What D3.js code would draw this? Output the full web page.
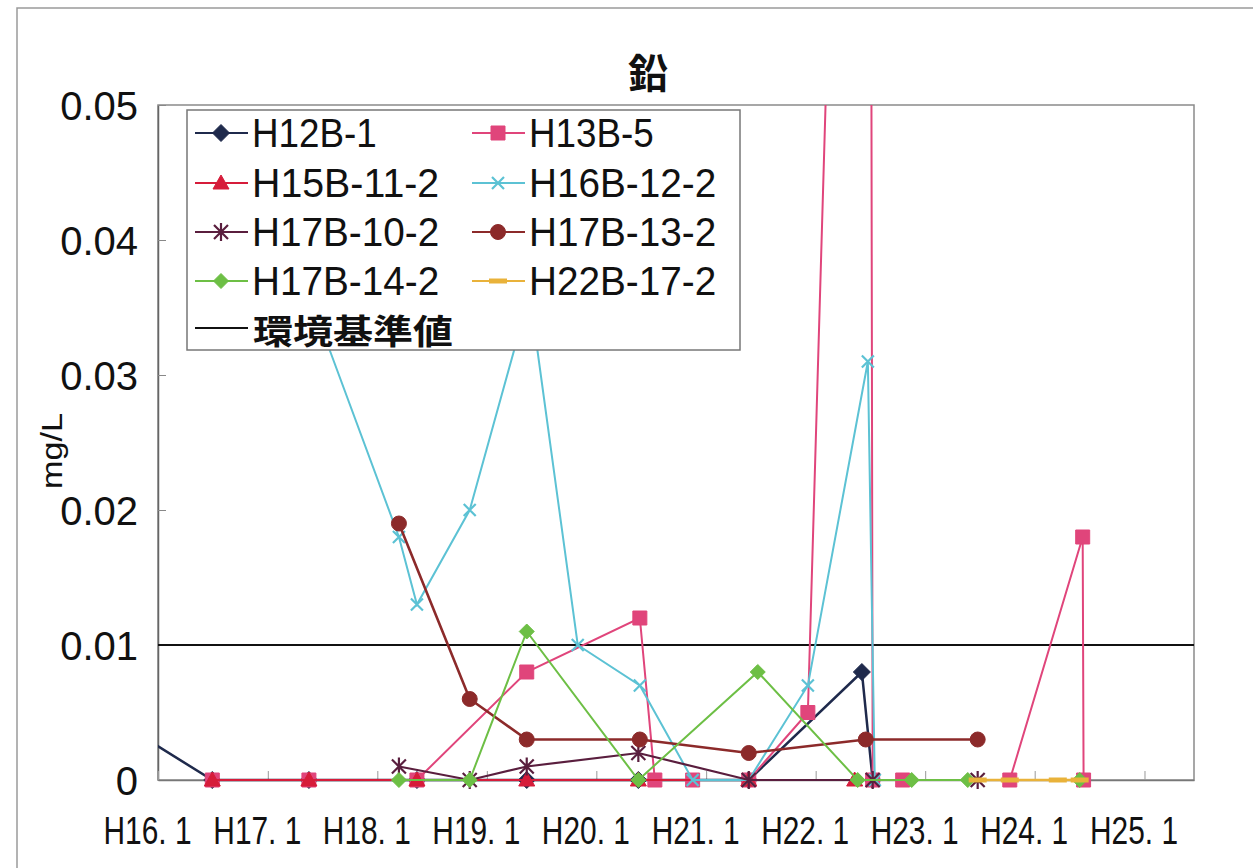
<!DOCTYPE html>
<html><head><meta charset="utf-8">
<script src="https://cdn.jsdelivr.net/npm/d3@7"></script>
<style>body{margin:0;background:#fff}</style>
</head><body><svg id="c" width="1253" height="868"></svg>
<script>
// ---- data ----
const chartTitle = "鉛";
const yLabel = "mg/L";
const xTickLabels = ["H16. 1","H17. 1","H18. 1","H19. 1","H20. 1","H21. 1","H22. 1","H23. 1","H24. 1","H25. 1"];
const xTickDates = ["2004-01-01","2005-01-01","2006-01-01","2007-01-01","2008-01-01","2009-01-01","2010-01-01","2011-01-01","2012-01-01","2013-01-01"];
const yTicks = [0,0.01,0.02,0.03,0.04,0.05];
const standardValue = 0.01;
const standardName = "環境基準値";

const seriesNames = ["H12B-1","H13B-5","H15B-11-2","H16B-12-2","H17B-10-2","H17B-13-2","H17B-14-2","H22B-17-2"];

const dates_H12B_1 = ["2003-07-03","2004-06-30","2005-05-18","2006-05-13","2007-05-14","2008-05-20","2009-05-23","2010-06-04","2010-07-10"];
const values_H12B_1 = [0.005,0,0,0,0,0,0,0.008,0];

const dates_H13B_5 = ["2004-06-30","2005-05-18","2006-05-13","2007-05-14","2008-05-25","2008-07-14","2008-11-17","2009-05-23","2009-12-06","2010-06-27","2010-07-10","2010-10-18","2011-10-10","2012-06-09","2012-06-12"];
const values_H13B_5 = [0,0,0,0.008,0.012,0,0,0,0.005,0.16,0,0,0,0.018,0];

const dates_H15B_11_2 = ["2004-06-30","2005-05-18","2006-05-13","2007-05-14","2008-05-20","2009-05-23","2010-05-11"];
const values_H15B_11_2 = [0,0,0,0,0,0,0];

const dates_H16B_12_2 = ["2005-05-18","2006-03-14","2006-05-13","2006-11-05","2007-05-24","2007-10-31","2008-05-25","2008-11-17","2009-05-23","2009-12-06","2010-06-24","2010-07-17"];
const values_H16B_12_2 = [0.036,0.018,0.013,0.020,0.036,0.010,0.007,0,0,0.007,0.031,0];

const dates_H17B_10_2 = ["2006-03-14","2006-11-05","2007-05-14","2008-05-20","2009-05-23","2010-07-10","2011-06-25"];
const values_H17B_10_2 = [0.001,0,0.001,0.002,0,0,0];

const dates_H17B_13_2 = ["2006-03-14","2006-11-05","2007-05-14","2008-05-25","2009-05-23","2010-06-17","2011-06-25"];
const values_H17B_13_2 = [0.019,0.006,0.003,0.003,0.002,0.003,0.003];

const dates_H17B_14_2 = ["2006-03-14","2006-11-05","2007-05-14","2008-05-20","2009-06-22","2010-05-21","2010-11-17","2011-05-23","2012-05-30"];
const values_H17B_14_2 = [0,0,0.011,0,0.008,0,0,0,0];

const dates_H22B_17_2 = ["2011-06-25","2011-10-10","2012-03-18","2012-05-30"];
const values_H22B_17_2 = [0,0,0,0];

const seriesDates = [dates_H12B_1,dates_H13B_5,dates_H15B_11_2,dates_H16B_12_2,dates_H17B_10_2,dates_H17B_13_2,dates_H17B_14_2,dates_H22B_17_2];
const seriesValues = [values_H12B_1,values_H13B_5,values_H15B_11_2,values_H16B_12_2,values_H17B_10_2,values_H17B_13_2,values_H17B_14_2,values_H22B_17_2];

// ---- styles ----
const colors = ["#1f2a4c","#e0457b","#d61c3a","#5cc2d4","#5a1e3e","#8c2a2a","#6dbf45","#e9b23a"];
const markers = ["diamond","square","triangle","xmark","asterisk","circle","diamond2","dash"];
const lineWidths = [2.5,2,2.2,2,2.2,2.6,2,2.5];
const latinFont = "'Liberation Sans', Arial, sans-serif";

const svg = d3.select("#c");
const L = 158, R = 1194, T = 105, B = 780;
const parse = d3.timeParse("%Y-%m-%d");
const x = d3.scaleTime().domain([parse("2004-01-01"), parse("2013-06-15")]).range([L, R]);
const y = d3.scaleLinear().domain([0, 0.05]).range([B, T]);

// outer chart frame
svg.append("path").attr("d", "M17,868 L17,8 L1253,8").attr("fill","none").attr("stroke","#9a9a9a").attr("stroke-width",1.5);

// title
svg.append("text").attr("x", 648).attr("y", 88).attr("text-anchor","middle")
  .attr("font-family","'Noto Sans CJK JP'").attr("font-weight","bold").attr("font-size",40).attr("fill","#111").text(chartTitle);

// plot border
svg.append("rect").attr("x",L).attr("y",T).attr("width",R-L).attr("height",B-T).attr("fill","none").attr("stroke","#8a8a8a").attr("stroke-width",1.5);

// y axis
const yAxis = d3.axisLeft(y).tickValues(yTicks).tickFormat(d => d === 0 ? "0" : d3.format(".2f")(d)).tickSizeInner(-8).tickSizeOuter(0).tickPadding(20);
const gy = svg.append("g").attr("transform",`translate(${L},0)`).call(yAxis);
gy.select(".domain").attr("stroke","#666").attr("stroke-width",1.5);
gy.selectAll(".tick line").attr("stroke","#888");
gy.selectAll(".tick text").attr("font-family",latinFont).attr("font-size",40).attr("fill","#111").attr("dy","0.36em");

// y label
svg.append("text").attr("transform","translate(62,451) rotate(-90)").attr("text-anchor","middle")
  .attr("font-family",latinFont).attr("font-size",30).attr("fill","#111")
  .attr("textLength",76).attr("lengthAdjust","spacingAndGlyphs").text(yLabel);

// x axis
const xTickVals = xTickDates.map(parse);
const xAxis = d3.axisBottom(x).tickValues(xTickVals).tickFormat((d,i) => xTickLabels[i]).tickSizeInner(-9).tickSizeOuter(0).tickPadding(37);
const gx = svg.append("g").attr("transform",`translate(0,${B})`).call(xAxis);
gx.select(".domain").attr("stroke","#777").attr("stroke-width",1.5);
gx.selectAll(".tick line").attr("stroke","#999");
gx.selectAll(".tick text").attr("font-family",latinFont).attr("font-size",38).attr("fill","#111")
  .attr("text-anchor","start").attr("dx",-55).attr("dy","0.71em")
  .attr("textLength",88).attr("lengthAdjust","spacingAndGlyphs");

// clip
svg.append("clipPath").attr("id","clip").append("rect").attr("x",L).attr("y",T).attr("width",R-L).attr("height",B-T+2);

// standard line
svg.append("line").attr("x1",L).attr("x2",R).attr("y1",y(standardValue)).attr("y2",y(standardValue)).attr("stroke","#111").attr("stroke-width",2);

function markerPath(type) {
  switch(type) {
    case "diamond": return "M0,-8.5L8.5,0L0,8.5L-8.5,0Z";
    case "diamond2": return "M0,-7.5L7.5,0L0,7.5L-7.5,0Z";
    case "square": return "M-7,-7H7V7H-7Z";
    case "triangle": return "M0,-8L8,6H-8Z";
    case "xmark": return "M-6,-6L6,6M-6,6L6,-6";
    case "asterisk": return "M-7,-7L7,7M-7,7L7,-7M0,-9V9";
    case "circle": return "M7.5,0A7.5,7.5 0 1,1 -7.5,0A7.5,7.5 0 1,1 7.5,0Z";
    case "dash": return "M-9,0H9";
  }
}
function drawMarker(g, type, color, cx, cy) {
  const stroked = (type === "xmark" || type === "asterisk" || type === "dash");
  g.append("path").attr("d", markerPath(type)).attr("transform",`translate(${cx},${cy})`)
    .attr("fill", stroked ? "none" : color)
    .attr("stroke", color)
    .attr("stroke-width", type === "dash" ? 5 : (stroked ? 2.2 : 1));
}

const line = d3.line().x(d => x(d.date)).y(d => y(d.value));
const [d0, d1] = x.domain();
seriesNames.forEach((name, i) => {
  const data = seriesDates[i].map((ds, j) => ({date: parse(ds), value: seriesValues[i][j]}));
  const g = svg.append("g");
  g.append("path").datum(data).attr("d", line).attr("fill","none").attr("stroke",colors[i])
    .attr("stroke-width",lineWidths[i]).attr("clip-path","url(#clip)");
  data.filter(d => d.date >= d0 && d.date <= d1 && d.value <= 0.05).forEach(d => {
    drawMarker(g, markers[i], colors[i], x(d.date), y(d.value));
  });
});

// legend
const lg = svg.append("g");
lg.append("rect").attr("x",187).attr("y",110).attr("width",553).attr("height",240).attr("fill","#fff").attr("stroke","#777").attr("stroke-width",1.5);
const rowY = [133, 183, 232, 281, 328];
const colX = [195, 472];
seriesNames.forEach((name, i) => {
  const r = Math.floor(i/2), c = i % 2;
  const lx = colX[c], ly = rowY[r];
  lg.append("line").attr("x1",lx).attr("x2",lx+53).attr("y1",ly).attr("y2",ly).attr("stroke",colors[i]).attr("stroke-width",2.2);
  drawMarker(lg, markers[i], colors[i], lx+26, ly);
  lg.append("text").attr("x",lx+57).attr("y",ly).attr("dy","0.36em")
    .attr("font-family",latinFont).attr("font-size",40)
    .attr("textLength", name.length * 20.8).attr("lengthAdjust","spacingAndGlyphs")
    .attr("fill","#111").text(name);
});
lg.append("line").attr("x1",195).attr("x2",248).attr("y1",rowY[4]).attr("y2",rowY[4]).attr("stroke","#111").attr("stroke-width",2);
lg.append("text").attr("x",253).attr("y",rowY[4]+4).attr("dy","0.36em")
  .attr("font-family","'Noto Sans CJK JP'").attr("font-size",34).attr("font-weight","bold")
  .attr("textLength",200).attr("lengthAdjust","spacingAndGlyphs").attr("fill","#111").text(standardName);
</script></body></html>
